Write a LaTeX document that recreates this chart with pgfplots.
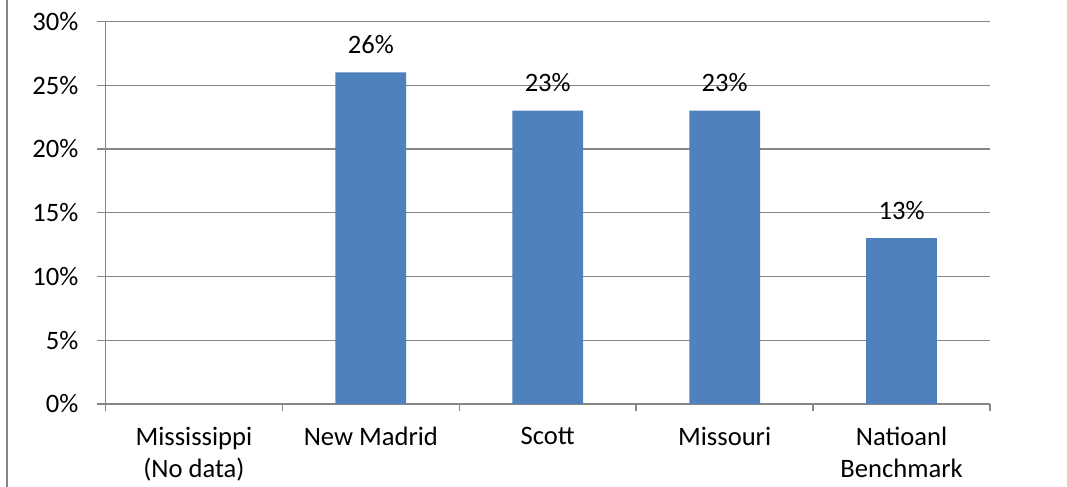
\documentclass[border=0pt]{standalone}
\usepackage{fontspec}
\setmainfont{Carlito}
\usepackage{pgfplots}
\pgfplotsset{compat=1.18}
\definecolor{gridgray}{RGB}{134,134,134}
\definecolor{barblue}{RGB}{79,129,189}
\begin{document}
\begin{tikzpicture}
\useasboundingbox (0,0) rectangle (533.5pt,243.5pt);
\draw[gridgray, line width=0.75pt] (3.5pt,0) -- (3.5pt,243.5pt);
\begin{axis}[
    at={(52.75pt,41.5pt)}, anchor=south west,
    scale only axis,
    width=442.25pt, height=191.25pt,
    xmin=-0.5, xmax=4.5,
    ymin=0, ymax=30,
    axis x line*=bottom, axis y line*=left,
    axis line style={gridgray, line width=0.7pt, -},
    xtick={0,1,2,3,4},
    xticklabels={Mississippi\\(No data), New Madrid, Scott, Missouri, Natioanl\\Benchmark},
    major x tick style={draw=none},
    minor xtick={-0.5,0.5,1.5,2.5,3.5,4.5},
    minor tick length=3.5pt,
    minor x tick style={gridgray, line width=0.7pt},
    xticklabel style={align=center, font=\fontsize{13.3}{16}\selectfont, anchor=north, yshift=-4pt},
    ytick={0,5,10,15,20,25,30},
    yticklabel={\pgfmathprintnumber{\tick}\%},
    yticklabel style={font=\fontsize{13.3}{16}\selectfont, xshift=-6pt},
    /pgf/number format/assume math mode=true,
    tick align=outside,
    major tick length=4pt,
    y tick style={gridgray, line width=0.7pt},
    ymajorgrids=true,
    grid style={gridgray, line width=0.7pt},
    ybar, bar width=0.4,
    nodes near coords={\pgfmathprintnumber{\pgfplotspointmeta}\%},
    nodes near coords style={font=\fontsize{13.3}{16}\selectfont, anchor=base, yshift=9.5pt, black},
    clip=false,
]
\addplot[fill=barblue, draw=none] coordinates {
    (1,26)
    (2,23)
    (3,23)
    (4,13)
};
\end{axis}
\end{tikzpicture}
\end{document}
